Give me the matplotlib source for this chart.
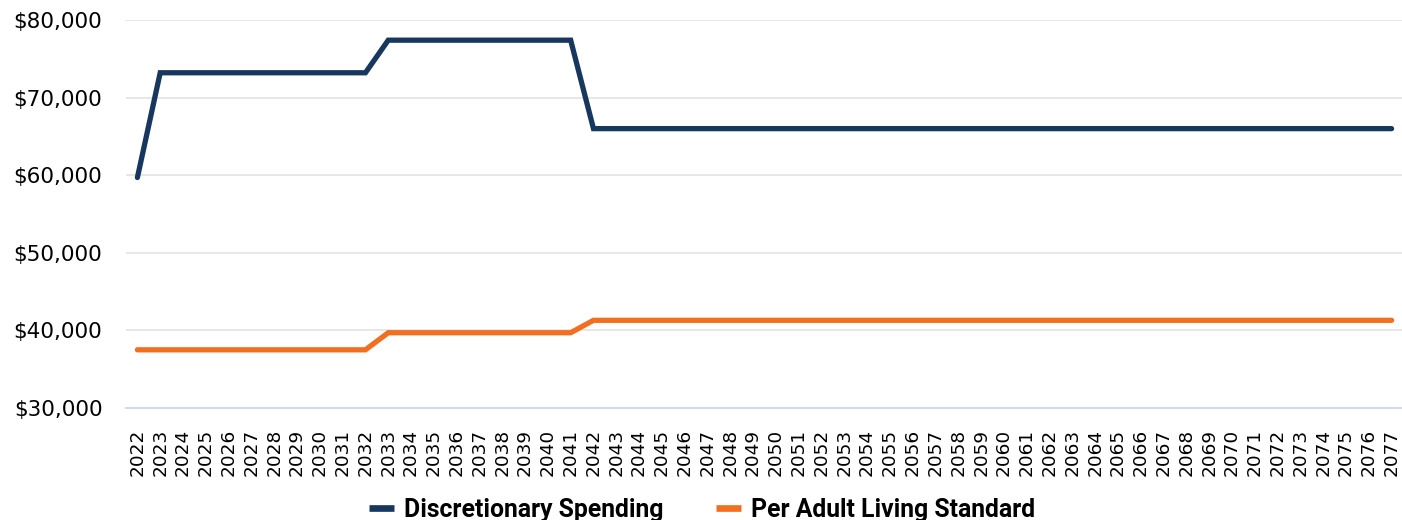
import matplotlib
matplotlib.use("Agg")
import matplotlib.pyplot as plt
from matplotlib.ticker import FuncFormatter

years = list(range(2022, 2078))
discretionary = [59700] + [73200] * 10 + [77400] * 9 + [66000] * 36
living_standard = [37500] * 11 + [39700] * 9 + [41300] * 36

navy = "#17375e"
orange = "#f26f21"

plt.rcParams["font.family"] = ["DejaVu Sans"]

fig = plt.figure(figsize=(14.02, 5.2), dpi=100)
ax = fig.add_axes([126 / 1402, 1 - 408 / 520, (1403 - 126) / 1402, (408 - 20) / 520])

x = list(range(len(years)))
ax.plot(x, discretionary, color=navy, lw=3.8, solid_capstyle="round", solid_joinstyle="miter",
        label="Discretionary Spending")
ax.plot(x, living_standard, color=orange, lw=3.8, solid_capstyle="round", solid_joinstyle="miter",
        label="Per Adult Living Standard")

ax.set_xlim(-0.5, len(years) - 0.5)
ax.set_ylim(30000, 80000)
ax.set_yticks([30000, 40000, 50000, 60000, 70000, 80000])
ax.yaxis.set_major_formatter(FuncFormatter(lambda v, p: f"${v:,.0f}"))
ax.set_xticks(x)
ax.set_xticklabels([str(y) for y in years], rotation=90, fontsize=13.3)
ax.tick_params(axis="y", length=0, pad=17, labelsize=15.5)
ax.tick_params(axis="x", length=0, pad=15)

ax.grid(axis="y", color="#e3e3e3", lw=1.2)
ax.set_axisbelow(True)
for s in ["top", "right", "left"]:
    ax.spines[s].set_visible(False)
ax.spines["bottom"].set_color("#d3dbe8")
ax.spines["bottom"].set_linewidth(1.5)

leg = fig.legend(loc="center", bbox_to_anchor=(702 / 1402, 1 - 510 / 520), ncol=2, frameon=False,
                 prop={"family": ["Roboto"], "weight": "bold", "size": 17.8},
                 handlelength=1.0, handletextpad=0.4, columnspacing=2.15)
for h in leg.get_lines():
    h.set_linewidth(4.8)
    h.set_solid_capstyle("butt")

fig.savefig("out.png", dpi=100)
